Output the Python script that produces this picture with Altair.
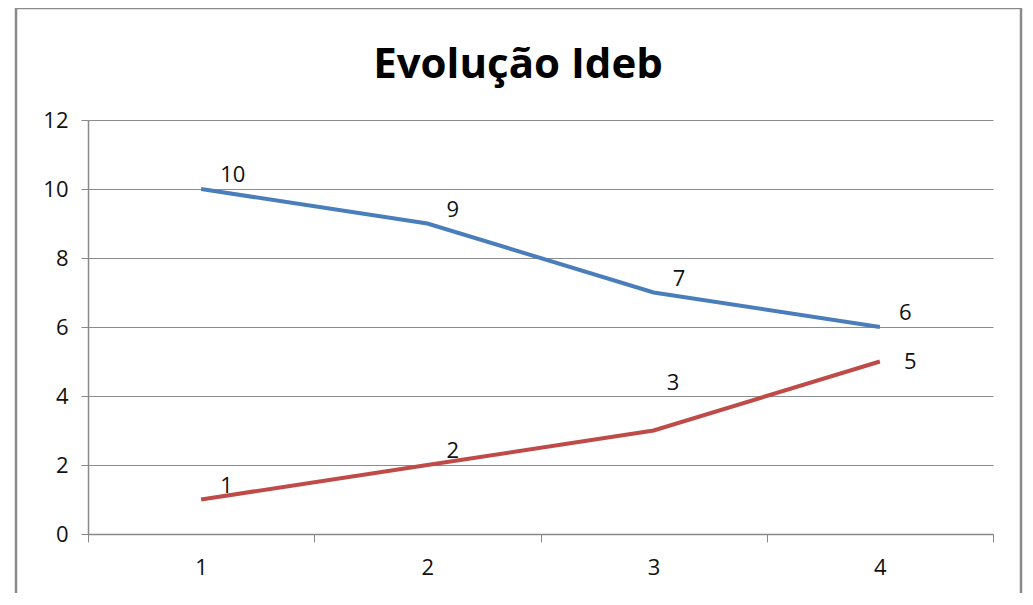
import altair as alt
import pandas as pd

categories = [1, 2, 3, 4]
serie_azul = [10, 9, 7, 6]
serie_vermelha = [1, 2, 3, 5]
y_ticks = [0, 2, 4, 6, 8, 10, 12]
titulo = "Evolução Ideb"

rows = []
for c, v in zip(categories, serie_azul):
    rows.append({"cat": c, "valor": v, "serie": "azul"})
for c, v in zip(categories, serie_vermelha):
    rows.append({"cat": c, "valor": v, "serie": "vermelha"})
df = pd.DataFrame(rows)

FONT = "Open Sans"
W, H = 905, 414
LFS = 22

x_enc = alt.X("cat:O", title=None,
              scale=alt.Scale(paddingInner=0, paddingOuter=0),
              axis=alt.Axis(labelAngle=0, tickBand="extent", labelFontSize=LFS,
                            labelFont=FONT, labelColor="#111", labelPadding=15,
                            tickColor="#888", tickSize=8, domainColor="#888",
                            domainWidth=1.5, grid=False))
y_enc = alt.Y("valor:Q", title=None,
              scale=alt.Scale(domain=[0, 12], nice=False),
              axis=alt.Axis(values=y_ticks, labelFontSize=LFS, labelFont=FONT,
                            labelColor="#111", labelPadding=13, tickColor="#888",
                            tickSize=7, domainColor="#888", domainWidth=1.5,
                            gridColor="#8c8c8c", gridWidth=1.2))
color_enc = alt.Color("serie:N", legend=None,
                      scale=alt.Scale(domain=["azul", "vermelha"],
                                      range=["#4a7ebb", "#be4b48"]))

base = alt.Chart(df)
one = pd.DataFrame({"t": [titulo]})

frame = alt.Chart(one).mark_rect(
    fill=None, stroke="#8a8a8a", strokeWidth=2.5, clip=False
).encode(x=alt.value(-72), x2=alt.value(933), y=alt.value(-112), y2=alt.value(H + 120))

title_mark = alt.Chart(one).mark_text(
    fontSize=42, font=FONT, fontWeight="bold", color="#000",
    align="center", baseline="alphabetic", clip=False
).encode(x=alt.value(430), y=alt.value(-42), text="t:N")

lines = base.mark_line(strokeWidth=4).encode(x=x_enc, y=y_enc, color=color_enc)

is_special_3 = "datum.serie == 'vermelha' && datum.cat == 3"
is_special_5 = "datum.serie == 'vermelha' && datum.cat == 4"

txt_kw = dict(align="left", baseline="middle", fontSize=LFS, font=FONT, color="#111")
labels = base.transform_filter(f"!({is_special_3}) && !({is_special_5})").mark_text(
    dx=19, dy=-14, **txt_kw).encode(x="cat:O", y="valor:Q", text="valor:Q")
label3 = base.transform_filter(is_special_3).mark_text(
    dx=13, dy=-48, **txt_kw).encode(x="cat:O", y="valor:Q", text="valor:Q")
label5 = base.transform_filter(is_special_5).mark_text(
    dx=24, dy=0, **txt_kw).encode(x="cat:O", y="valor:Q", text="valor:Q")

chart = alt.layer(frame, title_mark, lines, labels, label3, label5).properties(
    width=W, height=H,
    autosize=alt.AutoSizeParams(type="none"),
    padding={"left": 80, "top": 112, "right": 30, "bottom": 59},
).configure_view(stroke=None)

chart.save("out.html", embed_options={"renderer": "svg", "actions": False})
